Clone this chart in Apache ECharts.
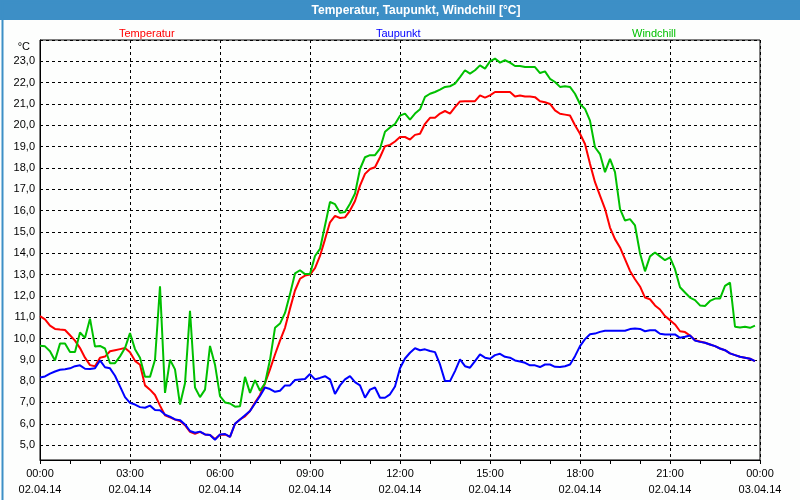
<!DOCTYPE html>
<html>
<head>
<meta charset="utf-8">
<script src="https://cdn.jsdelivr.net/npm/echarts@6/dist/echarts.min.js"></script>
<style>
html,body{margin:0;padding:0;background:#fdfefd;}
#chart{width:800px;height:500px;}
</style>
</head>
<body>
<div id="chart"></div>
<script>
// Sampling: every 10 minutes from 00:00 to 23:50 (02.04.14)
const stepMinutes = 10;
const seriesNames = ['Temperatur', 'Taupunkt', 'Windchill'];
const xTickDates = ['02.04.14', '02.04.14', '02.04.14', '02.04.14', '02.04.14', '02.04.14', '02.04.14', '02.04.14', '03.04.14'];

const temperatur = [
  11.05, 10.9, 10.6, 10.45, 10.42, 10.4,
  10.15, 9.9, 9.55, 9.1, 8.75, 8.7,
  9.1, 9.15, 9.4, 9.45, 9.5, 9.55,
  9.35, 8.95, 8.77, 7.8, 7.6, 7.35,
  6.85, 6.4, 6.3, 6.2, 6.13, 5.93,
  5.62, 5.53, 5.62, 5.5, 5.47, 5.28,
  5.48, 5.5, 5.38, 6.0, 6.2, 6.35,
  6.6, 7.0, 7.35, 7.9, 8.55, 9.25,
  9.9, 10.5, 11.4, 12.25, 12.8, 12.95,
  13.0, 13.3, 13.87, 14.65, 15.45, 15.75,
  15.65, 15.68, 16.0, 16.45, 17.17, 17.72,
  17.95, 18.03, 18.5, 19.02, 19.08, 19.24,
  19.45, 19.45, 19.33, 19.55, 19.6, 20.07,
  20.35, 20.35, 20.55, 20.67, 20.55, 20.85,
  21.12, 21.13, 21.13, 21.13, 21.4, 21.3,
  21.4, 21.56, 21.56, 21.56, 21.56, 21.35,
  21.4, 21.35, 21.35, 21.32, 21.13, 21.08,
  21.0, 20.7, 20.54, 20.5, 20.46, 20.0,
  19.6, 19.12, 18.19, 17.33, 16.7, 16.08,
  15.2, 14.66, 14.27, 13.72, 13.17, 12.78,
  12.44, 11.92, 11.84, 11.55, 11.36, 11.05,
  10.86, 10.66, 10.34, 10.3, 10.14, 9.92,
  9.86, 9.8, 9.72, 9.64, 9.53, 9.45,
  9.3, 9.22, 9.14, 9.1, 9.05, 8.94
];

const taupunkt = [
  8.17, 8.22, 8.35, 8.45, 8.53, 8.56,
  8.6, 8.7, 8.74, 8.58, 8.57, 8.6,
  8.97, 8.65, 8.6, 8.25, 7.75, 7.25,
  6.98, 6.9, 6.78, 6.75, 6.85, 6.65,
  6.63, 6.43, 6.33, 6.2, 6.17, 5.97,
  5.66, 5.58, 5.63, 5.5, 5.47, 5.25,
  5.5, 5.52, 5.38, 6.0, 6.2, 6.4,
  6.6, 6.95, 7.3, 7.7, 7.63, 7.5,
  7.55, 7.8, 7.8, 8.05, 8.08, 8.1,
  8.33, 8.08, 8.15, 8.23, 8.08, 7.4,
  7.8, 8.08, 8.23, 7.95, 7.8, 7.22,
  7.6, 7.7, 7.22, 7.22, 7.38, 7.75,
  8.6, 9.06, 9.33, 9.54, 9.45, 9.49,
  9.41, 9.36, 8.78, 8.0, 8.0, 8.47,
  9.02, 8.7, 8.63, 8.94, 9.25, 9.1,
  9.05, 9.22, 9.28, 9.14, 9.1, 8.97,
  8.92, 8.86, 8.74, 8.74, 8.66, 8.78,
  8.78, 8.67, 8.66, 8.7, 8.78, 9.17,
  9.64, 9.97, 10.2, 10.23, 10.31, 10.36,
  10.36, 10.36, 10.36, 10.36, 10.44, 10.47,
  10.45, 10.34, 10.39, 10.39, 10.22, 10.19,
  10.19, 10.19, 10.03, 10.08, 10.14, 9.9,
  9.84, 9.8, 9.72, 9.64, 9.53, 9.45,
  9.3, 9.22, 9.14, 9.1, 9.05, 8.94
];

const windchill = [
  9.66, 9.63, 9.4, 8.97, 9.76, 9.76,
  9.37, 9.37, 10.28, 10.03, 10.93, 9.62,
  9.65, 9.53, 8.84, 8.84, 9.16, 9.55,
  10.25, 9.5, 9.1, 8.2, 8.2, 9.0,
  12.45, 7.45, 9.0, 8.55, 6.9, 7.9,
  11.3, 7.7, 7.25, 7.6, 9.65, 8.77,
  7.3, 7.0, 6.95, 6.8, 6.82, 8.2,
  7.45, 8.05, 7.55, 7.9, 9.0, 10.5,
  10.7, 11.2, 12.08, 13.05, 13.2, 13.02,
  13.02, 13.87, 14.2, 15.3, 16.4, 16.3,
  15.9, 15.93, 16.32, 16.8, 17.95, 18.5,
  18.6, 18.6, 18.9, 19.7, 19.9, 20.06,
  20.45, 20.55, 20.27, 20.55, 20.75, 21.33,
  21.48, 21.56, 21.67, 21.8, 21.83, 21.95,
  22.26, 22.58, 22.42, 22.58, 22.81, 22.66,
  23.0, 23.13, 22.94, 23.05, 22.94, 22.78,
  22.78, 22.73, 22.73, 22.73, 22.45, 22.53,
  22.18, 22.03, 21.8, 21.83, 21.8, 21.48,
  21.0, 20.77, 20.22, 18.97, 18.65, 17.8,
  18.42, 17.8, 16.08, 15.53, 15.6, 15.3,
  14.0, 13.15, 13.85, 14.03, 13.85, 13.67,
  13.8, 13.25, 12.4, 12.16, 11.92, 11.8,
  11.55, 11.52, 11.76, 11.87, 11.87, 12.47,
  12.62, 10.55, 10.52, 10.55, 10.5, 10.6
];

const FONT = 'Liberation Sans';
const colors = { Temperatur: '#ff0000', Taupunkt: '#0000ff', Windchill: '#00c000' };

function pairs(values) {
  return values.map((v, i) => [i * stepMinutes, v]);
}
function hhmm(m) {
  const h = Math.floor(m / 60) % 24;
  const mm = m % 60;
  return String(h).padStart(2, '0') + ':' + String(mm).padStart(2, '0');
}
function legendFor(name, left) {
  return {
    data: [{ name: name, icon: 'none' }],
    left: left, top: 22,
    itemWidth: 0, itemHeight: 14, itemGap: 0,
    selectedMode: false,
    itemStyle: { opacity: 0 },
    lineStyle: { opacity: 0, width: 0 },
    textStyle: { color: colors[name], fontSize: 11, fontFamily: FONT }
  };
}

const chart = echarts.init(document.getElementById('chart'), null, { renderer: 'canvas' });

const option = {
  animation: false,
  backgroundColor: '#fdfefd',
  textStyle: { fontFamily: FONT },
  graphic: [
    { type: 'rect', left: 0, top: 0, shape: { width: 800, height: 20 }, style: { fill: '#3d8fc6' }, z: 0, silent: true },
    { type: 'rect', left: 0, top: 0, shape: { width: 799, height: 499 }, style: { fill: 'none', stroke: '#3d8fc6', lineWidth: 2 }, z: 0, silent: true }
  ],
  title: {
    text: 'Temperatur, Taupunkt, Windchill [°C]',
    left: 416,
    top: 5,
    textAlign: 'center',
    textStyle: { color: '#ffffff', fontSize: 12, fontWeight: 'bold', fontFamily: FONT },
    padding: 0,
    z: 10
  },
  legend: [
    legendFor('Temperatur', 109),
    legendFor('Taupunkt', 366),
    legendFor('Windchill', 622)
  ],
  grid: {
    left: 40, right: 40, top: 40, bottom: 40,
    show: true, borderColor: '#000', borderWidth: 1, backgroundColor: 'transparent'
  },
  xAxis: {
    type: 'value',
    min: 0, max: 1440, interval: 180,
    axisLine: { show: true, lineStyle: { color: '#000', width: 1 } },
    axisTick: { show: true, length: 4, lineStyle: { color: '#000' } },
    minorTick: { show: true, splitNumber: 3, length: 4, lineStyle: { color: '#000' } },
    splitLine: { show: true, lineStyle: { color: '#000', type: [3, 3], width: 1 } },
    axisLabel: {
      color: '#000', fontSize: 11, fontFamily: FONT, margin: 6, lineHeight: 16,
      formatter: function (v) { return hhmm(v) + '\n' + xTickDates[Math.round(v / 180)]; }
    }
  },
  yAxis: {
    type: 'value',
    min: 4.3, max: 24,
    splitNumber: 20, minInterval: 1, maxInterval: 1,
    name: '°C',
    nameLocation: 'end',
    nameGap: -7,
    nameTextStyle: { color: '#000', fontSize: 11, fontFamily: FONT, align: 'right', verticalAlign: 'middle', padding: [0, 10, 0, 0] },
    axisLine: { show: true, lineStyle: { color: '#000', width: 1 } },
    axisTick: { show: false },
    splitLine: { show: true, lineStyle: { color: '#000', type: [3, 3], width: 1 } },
    axisLabel: {
      color: '#000', fontSize: 11, fontFamily: FONT, margin: 5,
      showMinLabel: false, showMaxLabel: false,
      formatter: function (v) { return v.toFixed(1).replace('.', ','); }
    }
  },
  series: [
    { name: 'Temperatur', type: 'line', data: pairs(temperatur), showSymbol: false, color: colors.Temperatur, lineStyle: { width: 2, color: colors.Temperatur }, z: 3 },
    { name: 'Windchill', type: 'line', data: pairs(windchill), showSymbol: false, color: colors.Windchill, lineStyle: { width: 2, color: colors.Windchill }, z: 3 },
    { name: 'Taupunkt', type: 'line', data: pairs(taupunkt), showSymbol: false, color: colors.Taupunkt, lineStyle: { width: 2, color: colors.Taupunkt }, z: 4 }
  ]
};

chart.setOption(option);
</script>
</body>
</html>
